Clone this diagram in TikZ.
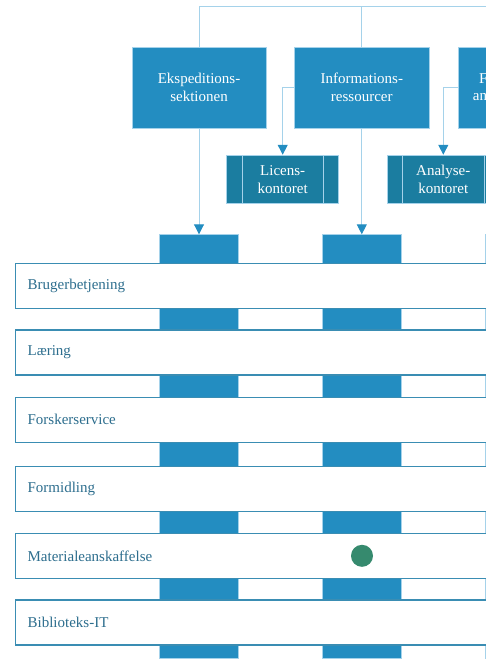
\documentclass[tikz,border=0pt]{standalone}
\usepackage{fontspec}
\setmainfont{Liberation Serif}
\usetikzlibrary{arrows.meta}

\definecolor{kbblue}{HTML}{238DC1}
\definecolor{kbteal}{HTML}{1B7DA0}
\definecolor{kbline}{HTML}{A5D2EA}
\definecolor{kbrow}{HTML}{3A8DB3}
\definecolor{kbtext}{HTML}{2D6E8E}
\definecolor{kbgreen}{HTML}{368A6E}

\tikzset{
  topbox/.style={rectangle, fill=kbblue, draw=kbline, line width=0.4pt, text=white,
    align=center, minimum width=134.5pt, minimum height=80.7pt, inner sep=0pt,
    font=\fontsize{15}{17.5}\selectfont},
  subbox/.style={rectangle, fill=kbteal, draw=kbline, line width=0.6pt, text=white,
    align=center, minimum width=112pt, minimum height=48.7pt, inner sep=0pt,
    font=\fontsize{15}{17.5}\selectfont},
  colbar/.style={rectangle, fill=kbblue, draw=kbline, line width=0.6pt, anchor=north,
    minimum width=78.5pt, minimum height=423.4pt, inner sep=0pt},
  rowbox/.style={rectangle, fill=white, draw=kbrow, line width=1.2pt, anchor=north west,
    minimum height=45pt, text width=596pt, inner xsep=12pt, align=left, text=kbtext,
    font=\fontsize{15}{17.5}\selectfont},
  link/.style={draw=kbline, line width=0.9pt},
  arr/.style={link, -{Triangle[width=10pt,length=10pt,color=kbblue]}},
  dot/.style={circle, fill=kbgreen, minimum size=22pt, inner sep=0pt},
}

\begin{document}
\begin{tikzpicture}[x=1pt,y=-1pt]
  \useasboundingbox (0,0) rectangle (486,659);
  \clip (0,0) rectangle (486,659);

  % top level units
  \node [topbox] (eksp)  at (199,87.35)   {Ekspeditions-\\sektionen};
  \node [topbox] (info)  at (361.8,87.35) {Informations-\\ressourcer};
  \node [topbox] (forsk) at (525.2,87.35) {};
  \node [align=left, anchor=west, inner sep=0pt, text=white,
         font=\fontsize{15}{17.5}\selectfont] (forsktxt) at (472.7,87.35) {\hspace*{6.3pt}F\\an};

  \coordinate (bus) at (199,6);
  \draw [link] (eksp.north) |- (bus -| forsk.north) -- (forsk.north);
  \draw [link] (info.north) -- (info.north |- bus);

  % offices
  \node [subbox] (licens)  at (282.7,179.4) {Licens-\\kontoret};
  \node [subbox] (analyse) at (443.3,179.4) {Analyse-\\kontoret};
  \foreach \unit in {licens, analyse} {
    \draw [kbline, line width=0.9pt] ([xshift=15.6pt]\unit.north west) -- ([xshift=15.6pt]\unit.south west);
    \draw [kbline, line width=0.9pt] ([xshift=-15.6pt]\unit.north east) -- ([xshift=-15.6pt]\unit.south east);
  }
  \draw [arr] (info.west) -| (licens.north);
  \draw [arr] (forsk.west) -| (analyse.north);

  % columns
  \node [colbar] (col1) at (199,234.3)   {};
  \node [colbar] (col2) at (362,234.3)   {};
  \node [colbar] (col3) at (524.7,234.3) {};

  \draw [arr] (eksp.south) -- (col1.north);
  \draw [arr] (info.south) -- (info.south |- col2.north);

  % functions
  \foreach \top/\txt [count=\i] in {262.7/Brugerbetjening, 329.3/Læring,
      396.7/Forskerservice, 466/Formidling, 532.7/Materialeanskaffelse, 599.3/Biblioteks-IT}
    \node [rowbox] (row\i) at (15,\top) {\txt};

  \node [dot] (mark) at (col2.center |- row5.center) {};

\end{tikzpicture}
\end{document}
